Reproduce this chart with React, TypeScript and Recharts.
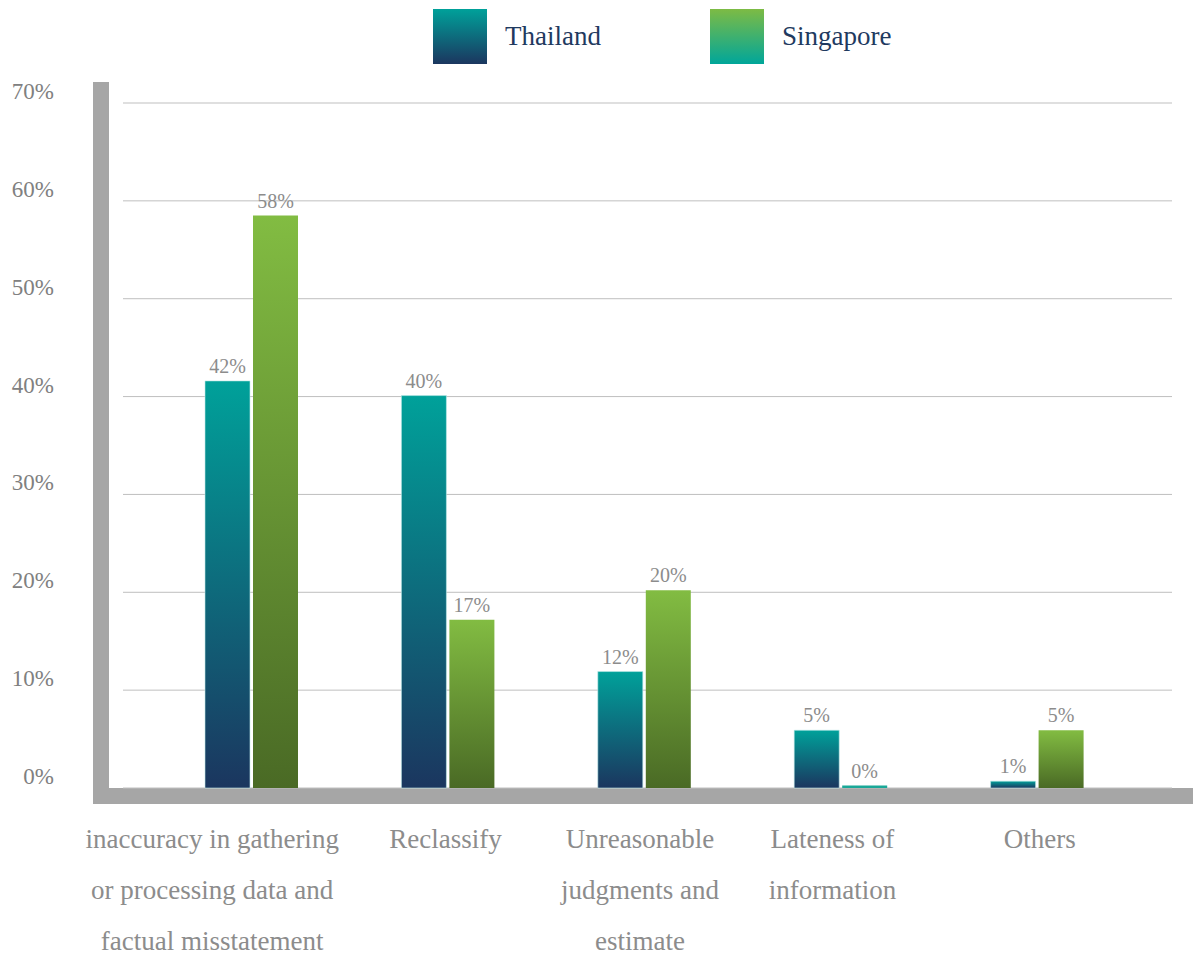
import React from "react";
import { BarChart, Bar, XAxis, YAxis, CartesianGrid, LabelList, Cell } from "recharts";

// categories, with manual line breaks as in the original slide
const categories = [
  "inaccuracy in gathering\nor processing data and\nfactual misstatement",
  "Reclassify",
  "Unreasonable\njudgments and\nestimate",
  "Lateness of\ninformation",
  "Others",
];

// bar heights (%)
const thailand = [41.6, 40.1, 11.9, 5.9, 0.7];
const singapore = [58.5, 17.2, 20.2, 0.25, 5.9];

// printed data labels
const thailandLabels = ["42%", "40%", "12%", "5%", "1%"];
const singaporeLabels = ["58%", "17%", "20%", "0%", "5%"];

const yTicks = [0, 10, 20, 30, 40, 50, 60, 70];

const data = categories.map((name, i) => ({
  name,
  thailand: thailand[i],
  singapore: singapore[i],
  thailandLabel: thailandLabels[i],
  singaporeLabel: singaporeLabels[i],
}));

const FONT = "'Liberation Serif', 'DejaVu Serif', serif";

const legendItems = [
  { name: "Thailand", gradient: "linear-gradient(#00A19A, #1B365F)" },
  { name: "Singapore", gradient: "linear-gradient(#7DBB44, #00A69A)" },
];

// the slide's text boxes sit a little off the bar centres
const labelNudge = [-39, -2, -4, -8, 3];

const YTick = (props: any) => {
  const { y, payload } = props;
  return (
    <text x={54} y={y - 4} textAnchor="end" fill="#808080" fontSize={23} style={{ fontFamily: FONT }}>
      {payload.value}%
    </text>
  );
};

const XTick = (props: any) => {
  const { x, y, payload, index } = props;
  const lines = String(payload.value).split("\n");
  const cx = x + (labelNudge[index] || 0);
  return (
    <text x={cx} y={y} textAnchor="middle" fill="#8C8C8C" fontSize={27} style={{ fontFamily: FONT }}>
      {lines.map((line, i) => (
        <tspan key={i} x={cx} dy={i === 0 ? 60 : 51}>
          {line}
        </tspan>
      ))}
    </text>
  );
};

export default function App() {
  return (
    <div style={{ position: "absolute", left: 0, top: 0, width: 1193, height: 957, background: "#fff", fontFamily: FONT }}>
      {/* thick grey axis frame */}
      <div style={{ position: "absolute", left: 93, top: 82, width: 16, height: 722, background: "#A6A6A6" }} />
      <div style={{ position: "absolute", left: 93, top: 788, width: 1100, height: 16, background: "#A6A6A6" }} />

      {/* legend */}
      <div style={{ position: "absolute", left: 433, top: 9, display: "flex" }}>
        {legendItems.map((item) => (
          <div key={item.name} style={{ width: 277, display: "flex", alignItems: "center" }}>
            <div style={{ width: 54, height: 55, background: item.gradient }} />
            <span style={{ marginLeft: 18, fontSize: 27, color: "#1F3A60", lineHeight: "55px", fontFamily: FONT }}>{item.name}</span>
          </div>
        ))}
      </div>

      <div style={{ position: "absolute", left: 0, top: 0 }}>
        <BarChart
          width={1193}
          height={957}
          data={data}
          margin={{ top: 103, right: 21, bottom: 139, left: 0 }}
          barSize={45}
          barGap={3}
          style={{ fontFamily: FONT }}
        >
          <defs>
            <linearGradient id="gradThai" x1="0" y1="0" x2="0" y2="1">
              <stop offset="0%" stopColor="#00A19A" />
              <stop offset="100%" stopColor="#1B365F" />
            </linearGradient>
            <linearGradient id="gradSing" x1="0" y1="0" x2="0" y2="1">
              <stop offset="0%" stopColor="#82BC42" />
              <stop offset="100%" stopColor="#4A6A25" />
            </linearGradient>
          </defs>
          <CartesianGrid vertical={false} stroke="#BFBFBF" strokeWidth={1} />
          <XAxis
            dataKey="name"
            height={30}
            axisLine={false}
            tickLine={false}
            tickSize={0}
            tickMargin={0}
            interval={0}
            padding={{ left: 30, right: 37 }}
            tick={<XTick />}
          />
          <YAxis
            width={123}
            domain={[0, 70]}
            ticks={yTicks}
            axisLine={false}
            tickLine={false}
            tick={<YTick />}
          />
          <Bar dataKey="thailand" fill="url(#gradThai)" stroke="#BFE9E8" strokeWidth={0.6} isAnimationActive={false}>
            <LabelList dataKey="thailandLabel" position="top" offset={8} fill="#8C8C8C" fontSize={20} style={{ fontFamily: FONT }} />
          </Bar>
          <Bar dataKey="singapore" fill="url(#gradSing)" isAnimationActive={false}>
            {data.map((d, i) => (
              <Cell key={i} fill={d.singapore < 1 ? "#1AA898" : "url(#gradSing)"} />
            ))}
            <LabelList dataKey="singaporeLabel" position="top" offset={8} fill="#8C8C8C" fontSize={20} style={{ fontFamily: FONT }} />
          </Bar>
        </BarChart>
      </div>
    </div>
  );
}
